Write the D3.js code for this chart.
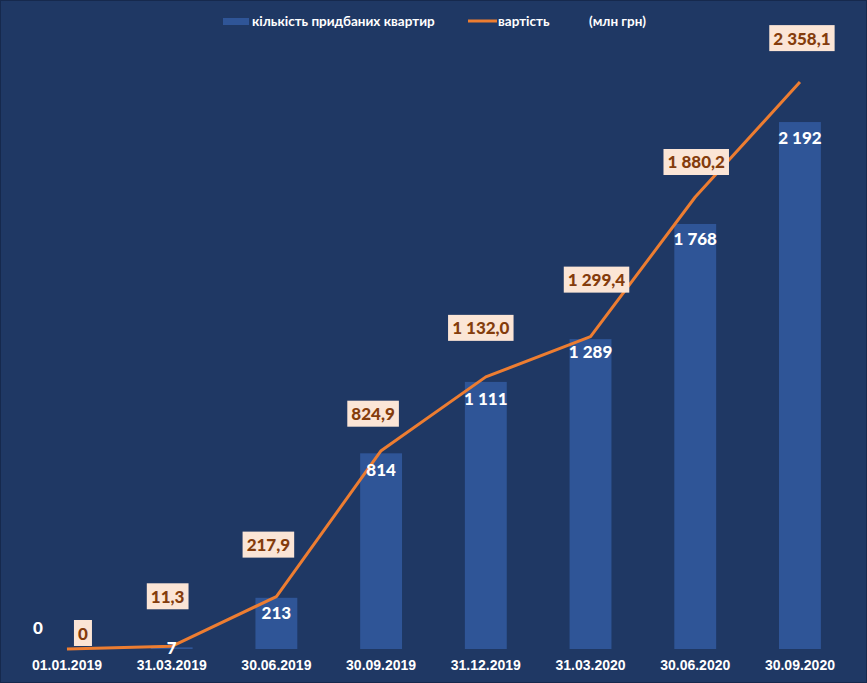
<!DOCTYPE html>
<html>
<head>
<meta charset="utf-8">
<script src="https://cdn.jsdelivr.net/npm/d3@7"></script>
<style>
  html, body { margin: 0; padding: 0; background: #1f3864; }
  svg { display: block; }
</style>
</head>
<body>
<svg id="chart" width="867" height="683"></svg>
<script>
// ---- data ----
const categories = ["01.01.2019", "31.03.2019", "30.06.2019", "30.09.2019", "31.12.2019", "31.03.2020", "30.06.2020", "30.09.2020"];
const apartments = [0, 7, 213, 814, 1111, 1289, 1768, 2192];
const costs = [0, 11.3, 217.9, 824.9, 1132.0, 1299.4, 1880.2, 2358.1];
const legendLabels = ["кількість придбаних квартир", "вартість", "(млн грн)"];

// ---- layout (manual label placement, as in the original) ----
const costLabelOffset = [[16, -16], [-4, -50], [-8, -52], [-8, -37], [-5, -49], [6, -57], [1, -35], [2, -44]];
const barLabelOffset = [[-29, -22], [0, 0], [0, 15], [0, 16], [0, 17], [0, 12], [0, 15], [0, 15]];

const W = 867, H = 683;
const svg = d3.select("#chart");

svg.append("rect").attr("x", 0.5).attr("y", 0.5).attr("width", W - 1).attr("height", H - 1)
  .attr("fill", "#1f3864").attr("stroke", "#16294d").attr("stroke-width", 1);

const x = d3.scaleBand().domain(categories).range([14.6, 852.3]).paddingInner(0.6).paddingOuter(0.3);
const y = d3.scaleLinear().domain([0, 2500]).range([649, 48]);
const cx = c => x(c) + x.bandwidth() / 2;

// bars
svg.append("g").selectAll("rect").data(apartments).join("rect")
  .attr("x", (d, i) => x(categories[i]))
  .attr("y", d => y(d))
  .attr("width", x.bandwidth())
  .attr("height", d => Math.max(y(0) - y(d), 0))
  .attr("fill", "#2f5597");

// line
const line = d3.line().x((d, i) => cx(categories[i])).y(d => y(d));
svg.append("path").datum(costs)
  .attr("d", line)
  .attr("fill", "none")
  .attr("stroke", "#ed7d31")
  .attr("stroke-width", 3)
  .attr("stroke-linejoin", "round")
  .attr("stroke-linecap", "butt");

const fmtInt = v => d3.format(",")(v).replace(/,/g, " ");
const fmtDec = v => d3.format(",.1f")(v).replace(/,/g, " ").replace(".", ",");

// bar labels
svg.append("g").selectAll("text").data(apartments).join("text")
  .attr("x", (d, i) => cx(categories[i]) + barLabelOffset[i][0])
  .attr("y", (d, i) => y(d) + barLabelOffset[i][1])
  .attr("text-anchor", "middle")
  .attr("dominant-baseline", "central")
  .attr("font-family", "Lato, 'Open Sans', sans-serif")
  .attr("font-weight", "900")
  .attr("font-size", 17)
  .attr("fill", "#ffffff")
  .text(d => fmtInt(d));

// cost labels with boxes
const lg = svg.append("g");
costs.forEach((v, i) => {
  const px = cx(categories[i]) + costLabelOffset[i][0];
  const py = y(v) + costLabelOffset[i][1];
  const g = lg.append("g");
  const rect = g.append("rect").attr("fill", "#fbe5d6");
  const t = g.append("text")
    .attr("x", px).attr("y", py)
    .attr("text-anchor", "middle")
    .attr("dominant-baseline", "central")
    .attr("font-family", "Lato, 'Open Sans', sans-serif")
    .attr("font-weight", "900")
    .attr("font-size", 17)
    .attr("fill", "#843c0c")
    .text(i === 0 ? "0" : fmtDec(v));
  const bb = t.node().getBBox();
  const w = bb.width + 8, h = 26;
  rect.attr("x", px - w / 2).attr("y", py - h / 2).attr("width", w).attr("height", h);
});

// x axis labels
const xAxis = d3.axisBottom(x).tickSize(0).tickPadding(0);
const ax = svg.append("g").attr("transform", "translate(0,660)").call(xAxis);
ax.select(".domain").remove();
ax.selectAll("text")
  .attr("font-family", "'Liberation Sans', Arial, sans-serif")
  .attr("font-weight", "bold")
  .attr("font-size", 14)
  .attr("fill", "#ffffff")
  .attr("dy", "0.68em");

// legend
const leg = svg.append("g").attr("font-family", "Lato, 'Open Sans', sans-serif")
  .attr("font-weight", "bold").attr("font-size", 13.5).attr("fill", "#ffffff");
leg.append("rect").attr("x", 223).attr("y", 18).attr("width", 26).attr("height", 7).attr("fill", "#2f5597");
leg.append("text").attr("x", 252).attr("y", 21).attr("dominant-baseline", "central").text(legendLabels[0]);
leg.append("line").attr("x1", 468).attr("x2", 497).attr("y1", 21).attr("y2", 21)
  .attr("stroke", "#ed7d31").attr("stroke-width", 3);
leg.append("text").attr("x", 498).attr("y", 21).attr("dominant-baseline", "central").text(legendLabels[1]);
leg.append("text").attr("x", 589).attr("y", 21).attr("dominant-baseline", "central").text(legendLabels[2]);
</script>
</body>
</html>
